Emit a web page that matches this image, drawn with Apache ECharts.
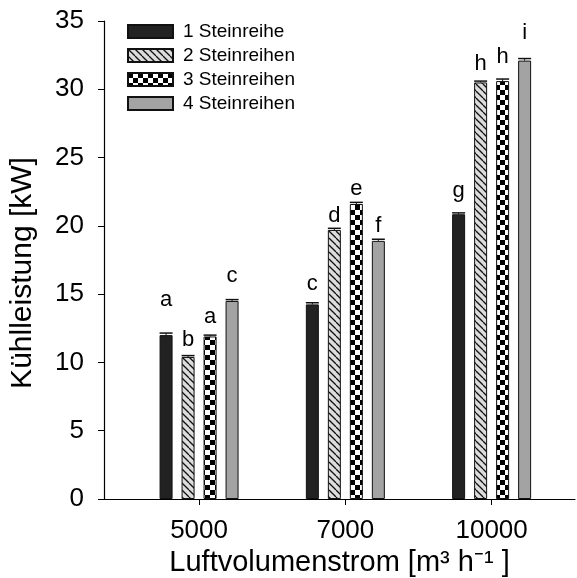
<!DOCTYPE html>
<html>
<head>
<meta charset="utf-8">
<script src="https://cdn.jsdelivr.net/npm/echarts@6/dist/echarts.min.js"></script>
<style>
html,body{margin:0;padding:0;background:#fff;}
#chart{width:577px;height:578px;}
</style>
</head>
<body>
<div id="chart"></div>
<script>
// ---- data ----
var categories = ['5000', '7000', '10000'];
var seriesNames = ['1 Steinreihe', '2 Steinreihen', '3 Steinreihen', '4 Steinreihen'];
var steinreihe1 = [12.0, 14.25, 20.85];
var steinreihen2 = [10.4, 19.7, 30.5];
var steinreihen3 = [11.9, 21.6, 30.6];
var steinreihen4 = [14.5, 18.9, 32.1];
var error1 = [0.15, 0.12, 0.1];
var error2 = [0.1, 0.12, 0.1];
var error3 = [0.1, 0.12, 0.15];
var error4 = [0.1, 0.12, 0.15];
var letters1 = ['a', 'c', 'g'];
var letters2 = ['b', 'd', 'h'];
var letters3 = ['a', 'e', 'h'];
var letters4 = ['c', 'f', 'i'];
var yAxisTitle = 'Kühlleistung [kW]';
var xAxisTitle = 'Luftvolumenstrom [m³ h⁻¹ ]';

// ---- style ----
var FONT = "'Liberation Sans', Arial, sans-serif";
var BAR_W = 13, BAR_STEP = 22;
var labelGap = [[24, 6, 9, 14], [9, 3, 4, 4], [12, 8, 13, 17]];

function makeHatch() {
  var s = 7, c = document.createElement('canvas');
  c.width = s; c.height = s;
  var g = c.getContext('2d');
  g.fillStyle = '#dcdcdc'; g.fillRect(0, 0, s, s);
  g.strokeStyle = '#111'; g.lineWidth = 1.3;
  [-s, 0, s].forEach(function (k) {
    g.beginPath(); g.moveTo(k, 0); g.lineTo(k + s, s); g.stroke();
  });
  return c;
}
function makeChecker() {
  var s = 5, c = document.createElement('canvas');
  c.width = 2 * s; c.height = 2 * s;
  var g = c.getContext('2d');
  g.fillStyle = '#fff'; g.fillRect(0, 0, 2 * s, 2 * s);
  g.fillStyle = '#000'; g.fillRect(0, 0, s, s); g.fillRect(s, s, s, s);
  return c;
}
var fills = [
  '#222222',
  { image: makeHatch(), repeat: 'repeat' },
  { image: makeChecker(), repeat: 'repeat' },
  '#a3a3a3'
];

var values = [steinreihe1, steinreihen2, steinreihen3, steinreihen4];
var errors = [error1, error2, error3, error4];
var letters = [letters1, letters2, letters3, letters4];

var series = values.map(function (vals, si) {
  return {
    name: seriesNames[si],
    type: 'bar',
    barWidth: BAR_W,
    barGap: ((BAR_STEP - BAR_W) / BAR_W * 100) + '%',
    itemStyle: { color: fills[si], borderColor: '#111', borderWidth: 1 },
    label: {
      show: true, position: 'top', color: '#000', fontFamily: FONT, fontSize: 22,
      formatter: function (p) { return letters[si][p.dataIndex]; }
    },
    data: vals.map(function (v, i) {
      return { value: [i, v], label: { distance: labelGap[i][si] } };
    }),
    z: 2
  };
});

var errData = [];
values.forEach(function (vals, si) {
  vals.forEach(function (v, i) { errData.push([i, v, errors[si][i], si]); });
});
series.push({
  type: 'custom',
  name: 'err',
  silent: true,
  z: 5,
  data: errData,
  encode: { x: 0, y: 1 },
  renderItem: function (params, api) {
    var x = api.value(0), y = api.value(1), e = api.value(2), si = api.value(3);
    var off = (si - 1.5) * BAR_STEP;
    var p0 = api.coord([x, y]);
    var p1 = api.coord([x, y + e]);
    var cx = p0[0] + off;
    return {
      type: 'group',
      children: [
        { type: 'line', shape: { x1: cx, y1: p0[1], x2: cx, y2: p1[1] }, style: { stroke: '#111', lineWidth: 1 } },
        { type: 'line', shape: { x1: cx - BAR_W / 2, y1: p1[1], x2: cx + BAR_W / 2, y2: p1[1] }, style: { stroke: '#111', lineWidth: 1.5 } }
      ]
    };
  }
});

var chart = echarts.init(document.getElementById('chart'), null, { renderer: 'canvas' });
chart.setOption({
  animation: false,
  backgroundColor: '#fff',
  textStyle: { fontFamily: FONT },
  grid: { left: 104, right: 2, top: 21, bottom: 79, containLabel: false, outerBoundsMode: 'none' },
  legend: {
    data: seriesNames,
    orient: 'vertical',
    left: 127, top: 22,
    padding: 0,
    itemWidth: 45, itemHeight: 13, itemGap: 5,
    icon: 'rect',
    textStyle: { fontFamily: FONT, fontSize: 19, color: '#000', padding: [0, 0, 0, 5] }
  },
  xAxis: {
    type: 'value',
    min: -0.65, max: 2.57,
    splitLine: { show: false },
    axisLine: { show: true, onZero: false, lineStyle: { color: '#000', width: 1.2 } },
    axisTick: { show: true, inside: false, length: 6, customValues: [0, 1, 2], lineStyle: { color: '#000' } },
    axisLabel: {
      customValues: [0, 1, 2], margin: 19, color: '#000', fontFamily: FONT, fontSize: 26,
      formatter: function (v) { return categories[Math.round(v)]; }
    },
    name: xAxisTitle,
    nameLocation: 'middle',
    nameGap: 42,
    nameTextStyle: { color: '#000', fontFamily: FONT, fontSize: 29 }
  },
  yAxis: {
    type: 'value',
    min: 0, max: 35, interval: 5,
    splitLine: { show: false },
    axisLine: { show: true, onZero: false, lineStyle: { color: '#000', width: 1.2 } },
    axisTick: { show: true, inside: false, length: 6, lineStyle: { color: '#000' } },
    axisLabel: { margin: 20, color: '#000', fontFamily: FONT, fontSize: 26 },
    name: yAxisTitle,
    nameLocation: 'middle',
    nameGap: 66,
    nameTextStyle: { color: '#000', fontFamily: FONT, fontSize: 30, padding: [0, 26, 0, 0] }
  },
  series: series
});
</script>
</body>
</html>
